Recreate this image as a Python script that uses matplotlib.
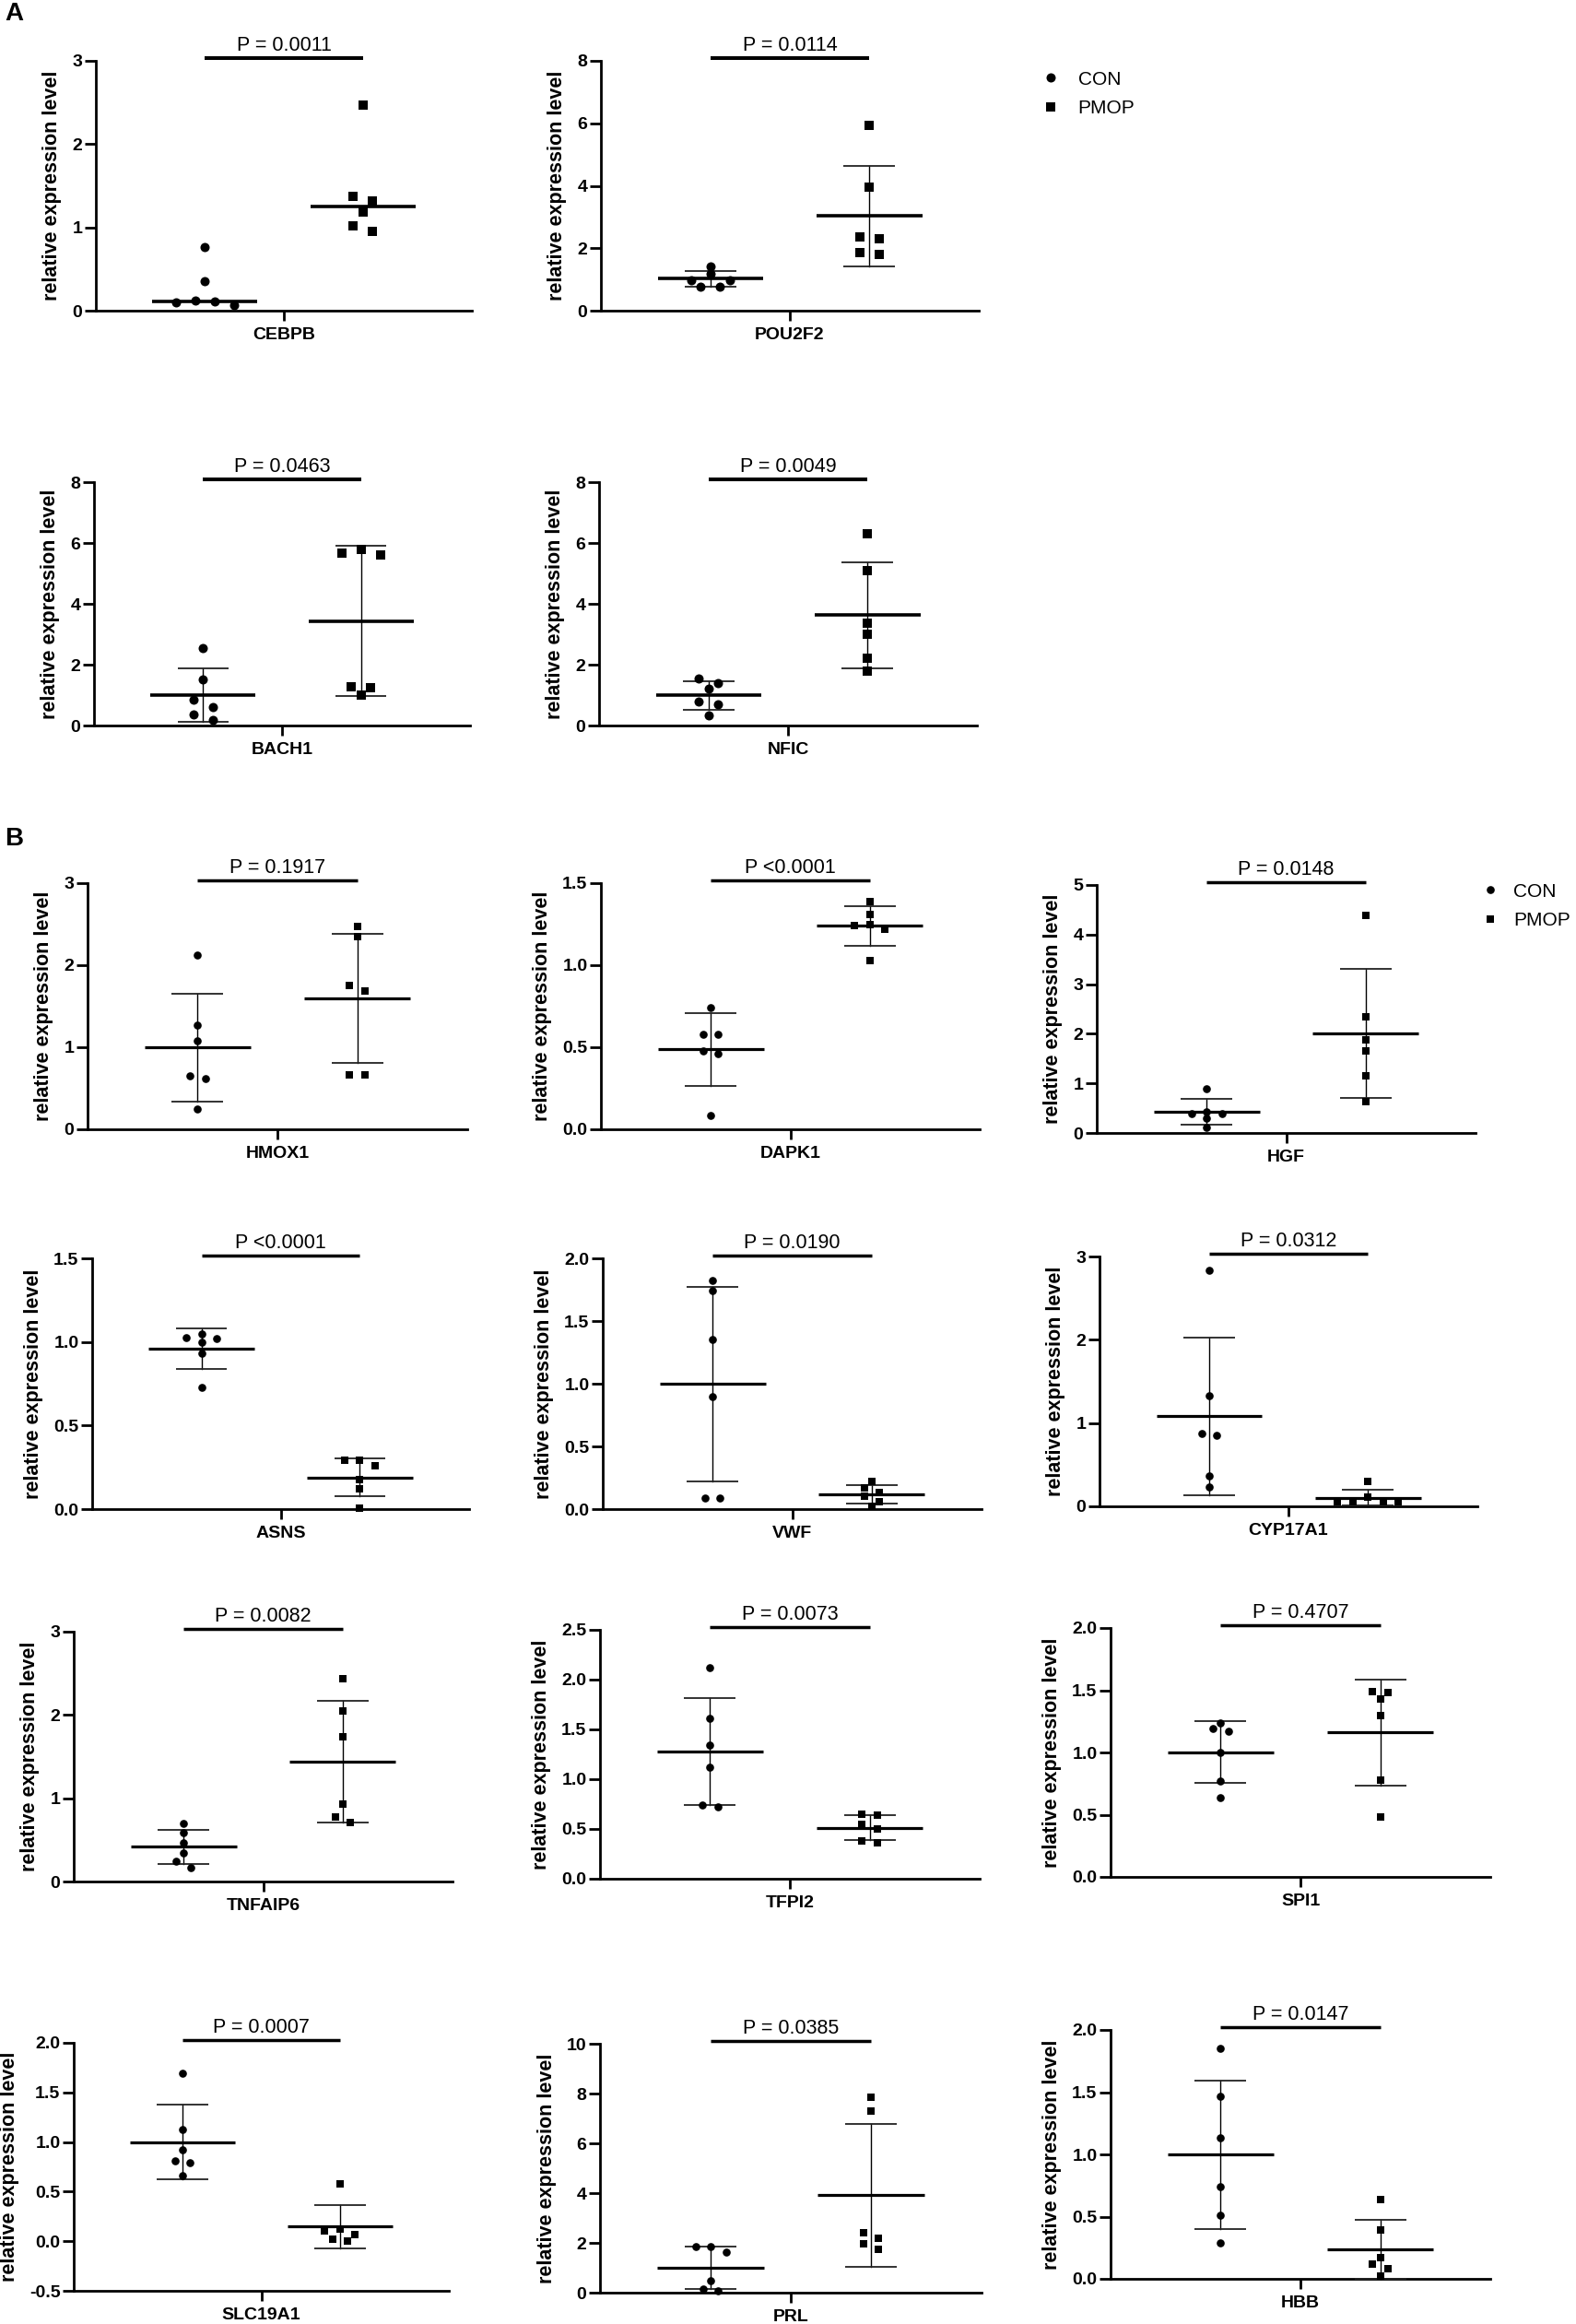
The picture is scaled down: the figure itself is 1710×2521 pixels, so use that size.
import numpy as np
import matplotlib
matplotlib.use('Agg')
import matplotlib.pyplot as plt
from matplotlib.lines import Line2D

plt.rcParams['font.family'] = ['Liberation Sans', 'DejaVu Sans']

FIG_W, FIG_H = 1710, 2521

#---------------------------------- data ----------------------------------#
genes = ['CEBPB', 'POU2F2', 'BACH1', 'NFIC',
         'HMOX1', 'DAPK1', 'HGF',
         'ASNS', 'VWF', 'CYP17A1',
         'TNFAIP6', 'TFPI2', 'SPI1',
         'SLC19A1', 'PRL', 'HBB']
p_texts = ['P = 0.0011', 'P = 0.0114', 'P = 0.0463', 'P = 0.0049',
           'P = 0.1917', 'P <0.0001', 'P = 0.0148',
           'P <0.0001', 'P = 0.0190', 'P = 0.0312',
           'P = 0.0082', 'P = 0.0073', 'P = 0.4707',
           'P = 0.0007', 'P = 0.0385', 'P = 0.0147']

cebpb_con = [0.76, 0.35, 0.12, 0.11, 0.10, 0.07]
cebpb_pmop = [2.47, 1.37, 1.32, 1.18, 1.02, 0.95]
pou2f2_con = [1.43, 1.18, 0.98, 0.98, 0.78, 0.78]
pou2f2_pmop = [5.92, 3.95, 2.35, 2.30, 1.85, 1.80]
bach1_con = [2.54, 1.51, 0.84, 0.62, 0.37, 0.17]
bach1_pmop = [5.80, 5.66, 5.62, 1.27, 1.25, 1.00]
nfic_con = [1.55, 1.40, 1.20, 0.80, 0.70, 0.32]
nfic_pmop = [6.30, 5.10, 3.35, 3.00, 2.20, 1.78]
hmox1_con = [2.12, 1.27, 1.08, 0.65, 0.62, 0.25]
hmox1_pmop = [2.47, 2.35, 1.75, 1.68, 0.66, 0.66]
dapk1_con = [0.74, 0.58, 0.58, 0.48, 0.46, 0.085]
dapk1_pmop = [1.39, 1.31, 1.245, 1.24, 1.22, 1.03]
hgf_con = [0.90, 0.43, 0.39, 0.39, 0.30, 0.11]
hgf_pmop = [4.38, 2.35, 1.875, 1.66, 1.16, 0.64]
asns_con = [1.05, 1.025, 1.02, 1.00, 0.93, 0.73]
asns_pmop = [0.29, 0.29, 0.26, 0.175, 0.12, 0.005]
vwf_con = [1.82, 1.74, 1.35, 0.90, 0.09, 0.09]
vwf_pmop = [0.22, 0.17, 0.13, 0.10, 0.06, 0.02]
cyp17a1_con = [2.83, 1.33, 0.87, 0.85, 0.37, 0.23]
cyp17a1_pmop = [0.30, 0.11, 0.06, 0.06, 0.05, 0.05]
tnfaip6_con = [0.70, 0.59, 0.47, 0.34, 0.24, 0.17]
tnfaip6_pmop = [2.43, 2.05, 1.74, 0.93, 0.78, 0.71]
tfpi2_con = [2.12, 1.61, 1.34, 1.12, 0.74, 0.72]
tfpi2_pmop = [0.65, 0.64, 0.55, 0.50, 0.38, 0.36]
spi1_con = [1.24, 1.19, 1.17, 1.00, 0.77, 0.64]
spi1_pmop = [1.49, 1.48, 1.43, 1.30, 0.78, 0.48]
slc19a1_con = [1.69, 1.13, 0.92, 0.81, 0.79, 0.66]
slc19a1_pmop = [0.58, 0.12, 0.10, 0.07, 0.02, 0.00]
prl_con = [1.85, 1.85, 1.63, 0.49, 0.15, 0.09]
prl_pmop = [7.85, 7.30, 2.40, 2.20, 1.95, 1.75]
hbb_con = [1.85, 1.47, 1.13, 0.74, 0.51, 0.29]
hbb_pmop = [0.64, 0.39, 0.17, 0.12, 0.08, 0.02]

con_data = [cebpb_con, pou2f2_con, bach1_con, nfic_con,
            hmox1_con, dapk1_con, hgf_con,
            asns_con, vwf_con, cyp17a1_con,
            tnfaip6_con, tfpi2_con, spi1_con,
            slc19a1_con, prl_con, hbb_con]
pmop_data = [cebpb_pmop, pou2f2_pmop, bach1_pmop, nfic_pmop,
             hmox1_pmop, dapk1_pmop, hgf_pmop,
             asns_pmop, vwf_pmop, cyp17a1_pmop,
             tnfaip6_pmop, tfpi2_pmop, spi1_pmop,
             slc19a1_pmop, prl_pmop, hbb_pmop]

y_ticks = [[0, 1, 2, 3], [0, 2, 4, 6, 8], [0, 2, 4, 6, 8], [0, 2, 4, 6, 8],
           [0, 1, 2, 3], [0, 0.5, 1.0, 1.5], [0, 1, 2, 3, 4, 5],
           [0, 0.5, 1.0, 1.5], [0, 0.5, 1.0, 1.5, 2.0], [0, 1, 2, 3],
           [0, 1, 2, 3], [0, 0.5, 1.0, 1.5, 2.0, 2.5], [0, 0.5, 1.0, 1.5, 2.0],
           [-0.5, 0, 0.5, 1.0, 1.5, 2.0], [0, 2, 4, 6, 8, 10], [0, 0.5, 1.0, 1.5, 2.0]]

# CEBPB is shown with a median line only, the others with mean +/- SD
center_kind = ['median'] + ['mean_sd'] * 15
section = ['A'] * 4 + ['B'] * 12

#------------------------------ layout (pixels) ----------------------------#
# left, top, right, bottom of each plotting box
boxes = [(104, 66, 512, 337), (652, 66, 1062, 337),
         (102, 523, 510, 787), (650, 523, 1060, 787),
         (95, 958, 507, 1225), (652, 958, 1063, 1225), (1190, 960, 1601, 1229),
         (100, 1365, 509, 1637), (654, 1365, 1065, 1637), (1193, 1363, 1603, 1634),
         (80, 1770, 491, 2041), (651, 1768, 1063, 2038), (1205, 1766, 1617, 2036),
         (80, 2216, 487, 2485), (651, 2217, 1065, 2487), (1205, 2202, 1617, 2472)]

X_CON, X_PMOP = 0.29, 0.71
MEAN_HW, CAP_HW = 0.14, 0.068

style = {
    'A': dict(ms_o=7.2, ms_s=7.0, diam=10.0, gap=21.0, bar_lw=2.9, mean_lw=2.6),
    'B': dict(ms_o=6.2, ms_s=5.8, diam=8.3, gap=16.5, bar_lw=2.5, mean_lw=2.3),
}


def swarm_offsets(vals, px_per_unit, diam, gap):
    """Spread points that sit too close in y side by side (pixel offsets)."""
    vals = np.asarray(vals, dtype=float)
    order = np.argsort(-vals, kind='stable')
    offs = np.zeros(len(vals))
    i = 0
    while i < len(order):
        grp = [order[i]]
        j = i + 1
        while j < len(order) and (vals[order[i]] - vals[order[j]]) * px_per_unit < 0.8 * diam:
            grp.append(order[j])
            j += 1
        n = len(grp)
        if n % 2 == 1:
            slots = [0, -1, 1, -2, 2, -3, 3]
        else:
            slots = [-0.5, 0.5, -1.5, 1.5, -2.5, 2.5]
        for k, idx in enumerate(grp):
            offs[idx] = slots[k] * gap
        i = j
    return offs


def tick_text(ticks):
    if all(float(t).is_integer() for t in ticks) and (ticks[1] - ticks[0]) >= 1:
        return ['%d' % t for t in ticks]
    return ['%.1f' % t for t in ticks]


fig = plt.figure(figsize=(FIG_W / 100, FIG_H / 100), dpi=100)

for k, gene in enumerate(genes):
    left, top, right, bottom = boxes[k]
    ax = fig.add_axes([left / FIG_W, 1 - bottom / FIG_H,
                       (right - left) / FIG_W, (bottom - top) / FIG_H])
    st = style[section[k]]
    ticks = y_ticks[k]
    y0, y1 = ticks[0], ticks[-1]
    w_px = right - left
    px_per_unit = (bottom - top) / (y1 - y0)

    ax.set_xlim(0, 1)
    ax.set_ylim(y0, y1)

    groups = [(con_data[k], X_CON, 'o', st['ms_o']),
              (pmop_data[k], X_PMOP, 's', st['ms_s'])]
    for vals, xc, mk, ms in groups:
        vals = np.asarray(vals, dtype=float)
        offs = swarm_offsets(vals, px_per_unit, st['diam'], st['gap']) / w_px
        ax.plot(xc + offs, vals, ls='none', marker=mk, ms=ms, color='black',
                markeredgewidth=0, clip_on=False, zorder=4)
        if center_kind[k] == 'median':
            c = np.median(vals)
        else:
            c = vals.mean()
            sd = vals.std(ddof=1)
            ax.plot([xc, xc], [c - sd, c + sd], color='black', lw=1.0,
                    clip_on=False, zorder=3)
            for e in (c - sd, c + sd):
                ax.plot([xc - CAP_HW, xc + CAP_HW], [e, e], color='#222222',
                        lw=1.3, clip_on=False, zorder=3, solid_capstyle='butt')
        ax.plot([xc - MEAN_HW, xc + MEAN_HW], [c, c], color='black',
                lw=st['mean_lw'], clip_on=False, zorder=5, solid_capstyle='butt')

    # significance bar with P value
    yb = y1 + 3.0 / px_per_unit
    ax.plot([X_CON, X_PMOP], [yb, yb], color='black', lw=st['bar_lw'],
            clip_on=False, solid_capstyle='butt')
    ax.annotate(p_texts[k], xy=((X_CON + X_PMOP) / 2, yb), xytext=(0, 6),
                textcoords='offset points', ha='center', va='baseline',
                fontsize=15.5, annotation_clip=False)

    for s in ['top', 'right']:
        ax.spines[s].set_visible(False)
    for s in ['left', 'bottom']:
        ax.spines[s].set_linewidth(2.0)

    ax.set_xticks([0.5])
    ax.set_xticklabels([gene], fontsize=14, fontweight='bold')
    ax.set_yticks(ticks)
    ax.set_yticklabels(tick_text(ticks), fontsize=14, fontweight='bold')
    ax.tick_params(axis='x', length=8, width=2.0, pad=5)
    ax.tick_params(axis='y', length=8.5, width=2.0, pad=2)
    ax.set_ylabel('relative expression level', fontsize=15.5,
                  fontweight='bold', labelpad=8)

# panel letters
fig.text(5 / FIG_W, 1 - 15 / FIG_H, 'A', fontsize=20, fontweight='bold', va='center')
fig.text(5 / FIG_W, 1 - 910 / FIG_H, 'B', fontsize=20, fontweight='bold', va='center')

# legends
for sec, lx, ly, pad in [('A', 1130, 102, 0.9), ('B', 1607, 983, 0.67)]:
    st = style[sec]
    handles = [Line2D([], [], ls='none', marker='o', ms=st['ms_o'], color='black', markeredgewidth=0),
               Line2D([], [], ls='none', marker='s', ms=st['ms_s'], color='black', markeredgewidth=0)]
    fig.legend(handles, ['CON', 'PMOP'], loc='center left',
               bbox_to_anchor=(lx / FIG_W, 1 - ly / FIG_H), frameon=False,
               fontsize=15, handlelength=1.0, handletextpad=pad,
               labelspacing=0.6, borderpad=0, borderaxespad=0)

fig.savefig('out.png', dpi=100)
